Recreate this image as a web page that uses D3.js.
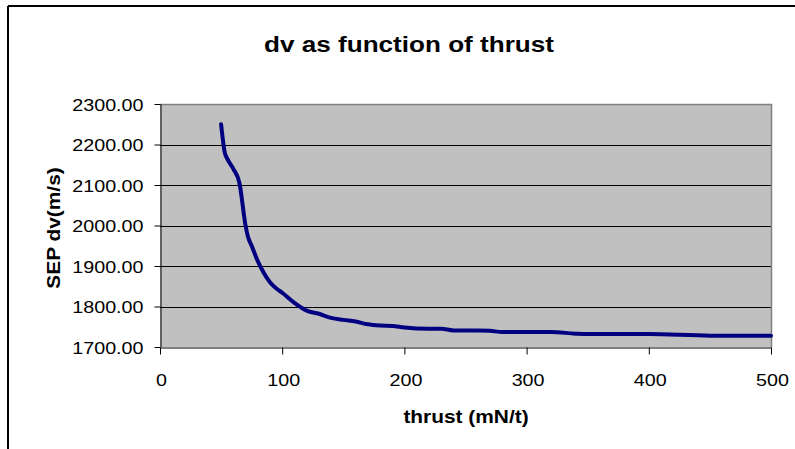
<!DOCTYPE html>
<html>
<head>
<meta charset="utf-8">
<script src="https://cdn.jsdelivr.net/npm/d3@7"></script>
<style>
  html, body { margin: 0; padding: 0; background: #ffffff; }
  svg { display: block; }
  text { font-family: Arial, "Liberation Sans", sans-serif; fill: #000; }
</style>
</head>
<body>
<svg id="chart" width="795" height="449"></svg>
<script>
// ---- data ----
const titleText = "dv as function of thrust";
const xLabel = "thrust (mN/t)";
const yLabel = "SEP dv(m/s)";
const xTicks = [0, 100, 200, 300, 400, 500];
const yTicks = [1700, 1800, 1900, 2000, 2100, 2200, 2300];
const thrust = [50, 53, 55, 60, 65, 70, 72, 75, 80, 85, 90, 95, 100, 110, 120, 130, 140, 150, 160, 170, 180, 190, 200, 220, 230, 240, 260, 270, 280, 320, 340, 350, 400, 450, 500];
const dv     = [2250, 2180, 2165, 2140, 2105, 2000, 1972, 1950, 1912, 1883, 1860, 1845, 1834, 1809, 1790, 1782, 1772, 1767, 1763, 1756, 1753, 1752, 1748, 1745, 1745, 1741, 1741, 1740, 1737, 1737, 1733, 1732, 1732, 1728, 1728];

// ---- layout ----
const svg = d3.select("#chart");
const plot = { left: 160, right: 771, top: 104, bottom: 347 };
const sx = 1.16; // horizontal glyph stretch of the reference rendering

const x = d3.scaleLinear().domain([0, 500]).range([plot.left, plot.right]);
const y = d3.scaleLinear().domain([1700, 2300]).range([plot.bottom, plot.top]);

// outer chart frame
svg.append("line").attr("x1", 8).attr("x2", 795).attr("y1", 6).attr("y2", 6)
  .attr("stroke", "#000").attr("stroke-width", 2);
svg.append("line").attr("x1", 8).attr("x2", 8).attr("y1", 6).attr("y2", 449)
  .attr("stroke", "#000").attr("stroke-width", 2);

// plot background
svg.append("rect")
  .attr("x", plot.left).attr("y", plot.top)
  .attr("width", plot.right - plot.left).attr("height", plot.bottom - plot.top)
  .attr("fill", "#c0c0c0");

// gridlines
svg.append("g").selectAll("line")
  .data(yTicks.filter(d => d !== 1700 && d !== 2300))
  .join("line")
  .attr("x1", plot.left).attr("x2", plot.right)
  .attr("y1", d => Math.round(y(d)) + 0.5).attr("y2", d => Math.round(y(d)) + 0.5)
  .attr("stroke", "#000").attr("stroke-width", 1);

// plot border top/right (gray)
svg.append("path")
  .attr("d", `M${plot.left},${plot.top + 0.5} H${plot.right + 0.5} V${plot.bottom}`)
  .attr("fill", "none").attr("stroke", "#808080").attr("stroke-width", 1.5);

// axes
const yAxis = svg.append("g")
  .attr("transform", `translate(${plot.left + 0.5},0)`)
  .call(d3.axisLeft(y).tickValues(yTicks).tickSize(6).tickSizeOuter(0).tickFormat(d3.format(".2f")));
const xAxis = svg.append("g")
  .attr("transform", `translate(0,${plot.bottom + 0.5})`)
  .call(d3.axisBottom(x).tickValues(xTicks).tickSize(7).tickSizeOuter(0));

[yAxis, xAxis].forEach(a => {
  a.select(".domain").attr("stroke", "#000").attr("stroke-width", 1);
  a.selectAll(".tick line").attr("stroke", "#000");
  a.selectAll("text").attr("font-family", "Arial, 'Liberation Sans', sans-serif").attr("font-size", 17).attr("fill", "#000");
});
yAxis.selectAll(".tick text")
  .attr("x", -17 / sx).attr("dy", "0.36em")
  .attr("transform", `scale(${sx},1)`);
xAxis.selectAll(".tick text")
  .attr("y", 39).attr("dy", 0)
  .attr("transform", `scale(${sx},1)`);
// keep tick label positions centered on ticks after stretch
xAxis.selectAll(".tick").each(function () {
  d3.select(this).select("text").attr("x", 1 / sx);
});

// line
const line = d3.line()
  .x((d, i) => x(thrust[i]))
  .y(d => y(d))
  .curve(d3.curveMonotoneX);
svg.append("path")
  .attr("d", line(dv))
  .attr("fill", "none")
  .attr("stroke", "#000080")
  .attr("stroke-width", 4)
  .attr("stroke-linejoin", "round")
  .attr("stroke-linecap", "round");

// title
svg.append("text")
  .attr("transform", `translate(409,52) scale(${sx},1)`)
  .attr("text-anchor", "middle")
  .attr("font-size", 22.5).attr("font-weight", "bold")
  .text(titleText);

// x label
svg.append("text")
  .attr("transform", `translate(466,423) scale(${sx},1)`)
  .attr("text-anchor", "middle")
  .attr("font-size", 18).attr("font-weight", "bold")
  .text(xLabel);

// y label
svg.append("text")
  .attr("transform", `translate(60,228) rotate(-90) scale(${sx},1)`)
  .attr("text-anchor", "middle")
  .attr("font-size", 18).attr("font-weight", "bold")
  .text(yLabel);
</script>
</body>
</html>
